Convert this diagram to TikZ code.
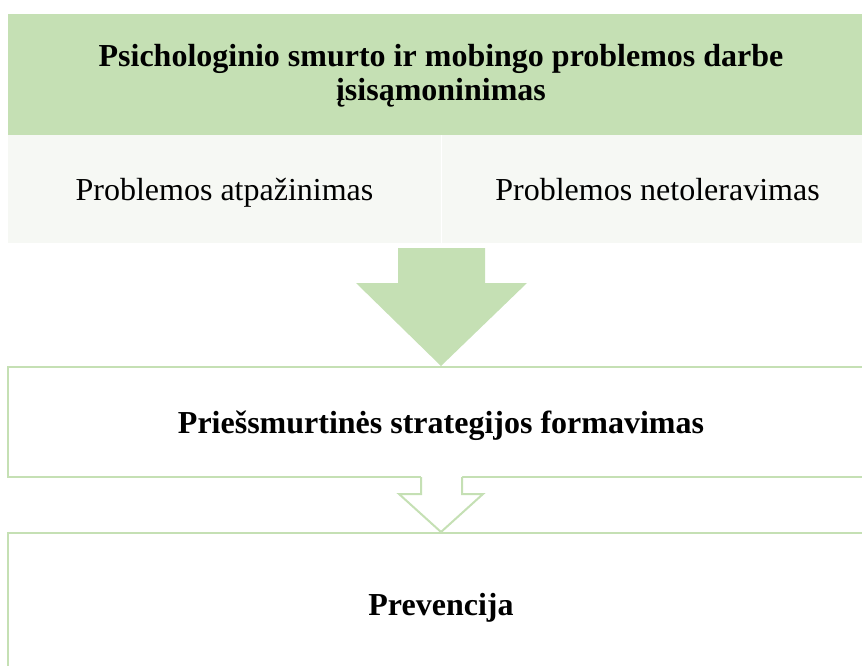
\documentclass[tikz,border=0pt]{standalone}
\usepackage{fontspec}
\setmainfont{Liberation Serif}
\usetikzlibrary{positioning}
\definecolor{leafgreen}{HTML}{C5E0B4}
\definecolor{palegreen}{HTML}{F6F8F4}
\begin{document}
\begin{tikzpicture}[x=1pt,y=-1pt,
    bigtext/.style={font=\fontsize{32}{34}\selectfont},
    headbox/.style={fill=leafgreen,minimum width=867pt,minimum height=123pt,
      inner sep=0pt,align=center,font=\fontsize{32}{34}\selectfont\bfseries},
    cellbox/.style={fill=palegreen,minimum width=433pt,minimum height=108pt,
      inner sep=0pt,text height=30pt,text depth=7pt,bigtext},
    stagebox/.style={draw=leafgreen,line width=2pt,fill=white,minimum width=867pt,
      inner sep=0pt,text height=30pt,text depth=7pt,
      font=\fontsize{32}{34}\selectfont\bfseries}]

    \useasboundingbox (0,0) rectangle (862,666);
    \clip (0,0) rectangle (862,666);

    % upper block
    \node[headbox] (head) at (441,76) {Psichologinio smurto ir mobingo problemos darbe\\ įsisąmoninimas};
    \node[cellbox] (recog) at (224.5,189) {Problemos atpažinimas};
    \node[cellbox] (toler) at (657.5,189) {Problemos netoleravimas};
    \draw[white,line width=0.8pt] (recog.north east) -- (recog.south east);

    % stages
    \node[stagebox,minimum height=110pt] (strat) at (441,422) {Priešsmurtinės strategijos formavimas};
    \node[stagebox,minimum height=142pt] (prev) at (441,604) {Prevencija};

    % filled arrow
    \coordinate (tipA) at (strat.north);
    \fill[leafgreen] (398,248) -- (485,248) -- (485,283) -- (527,283)
      -- (tipA) -- (356,283) -- (398,283) -- cycle;

    % outlined arrow
    \coordinate (tipB) at (prev.north);
    \fill[white] (421,476) -- (462,476) -- (462,494) -- (483,494)
      -- (tipB) -- (399,494) -- (421,494) -- cycle;
    \draw[leafgreen,line width=2pt,line join=miter] (421,477) -- (421,494) -- (399,494)
      -- (tipB) -- (483,494) -- (462,494) -- (462,477);
\end{tikzpicture}
\end{document}
